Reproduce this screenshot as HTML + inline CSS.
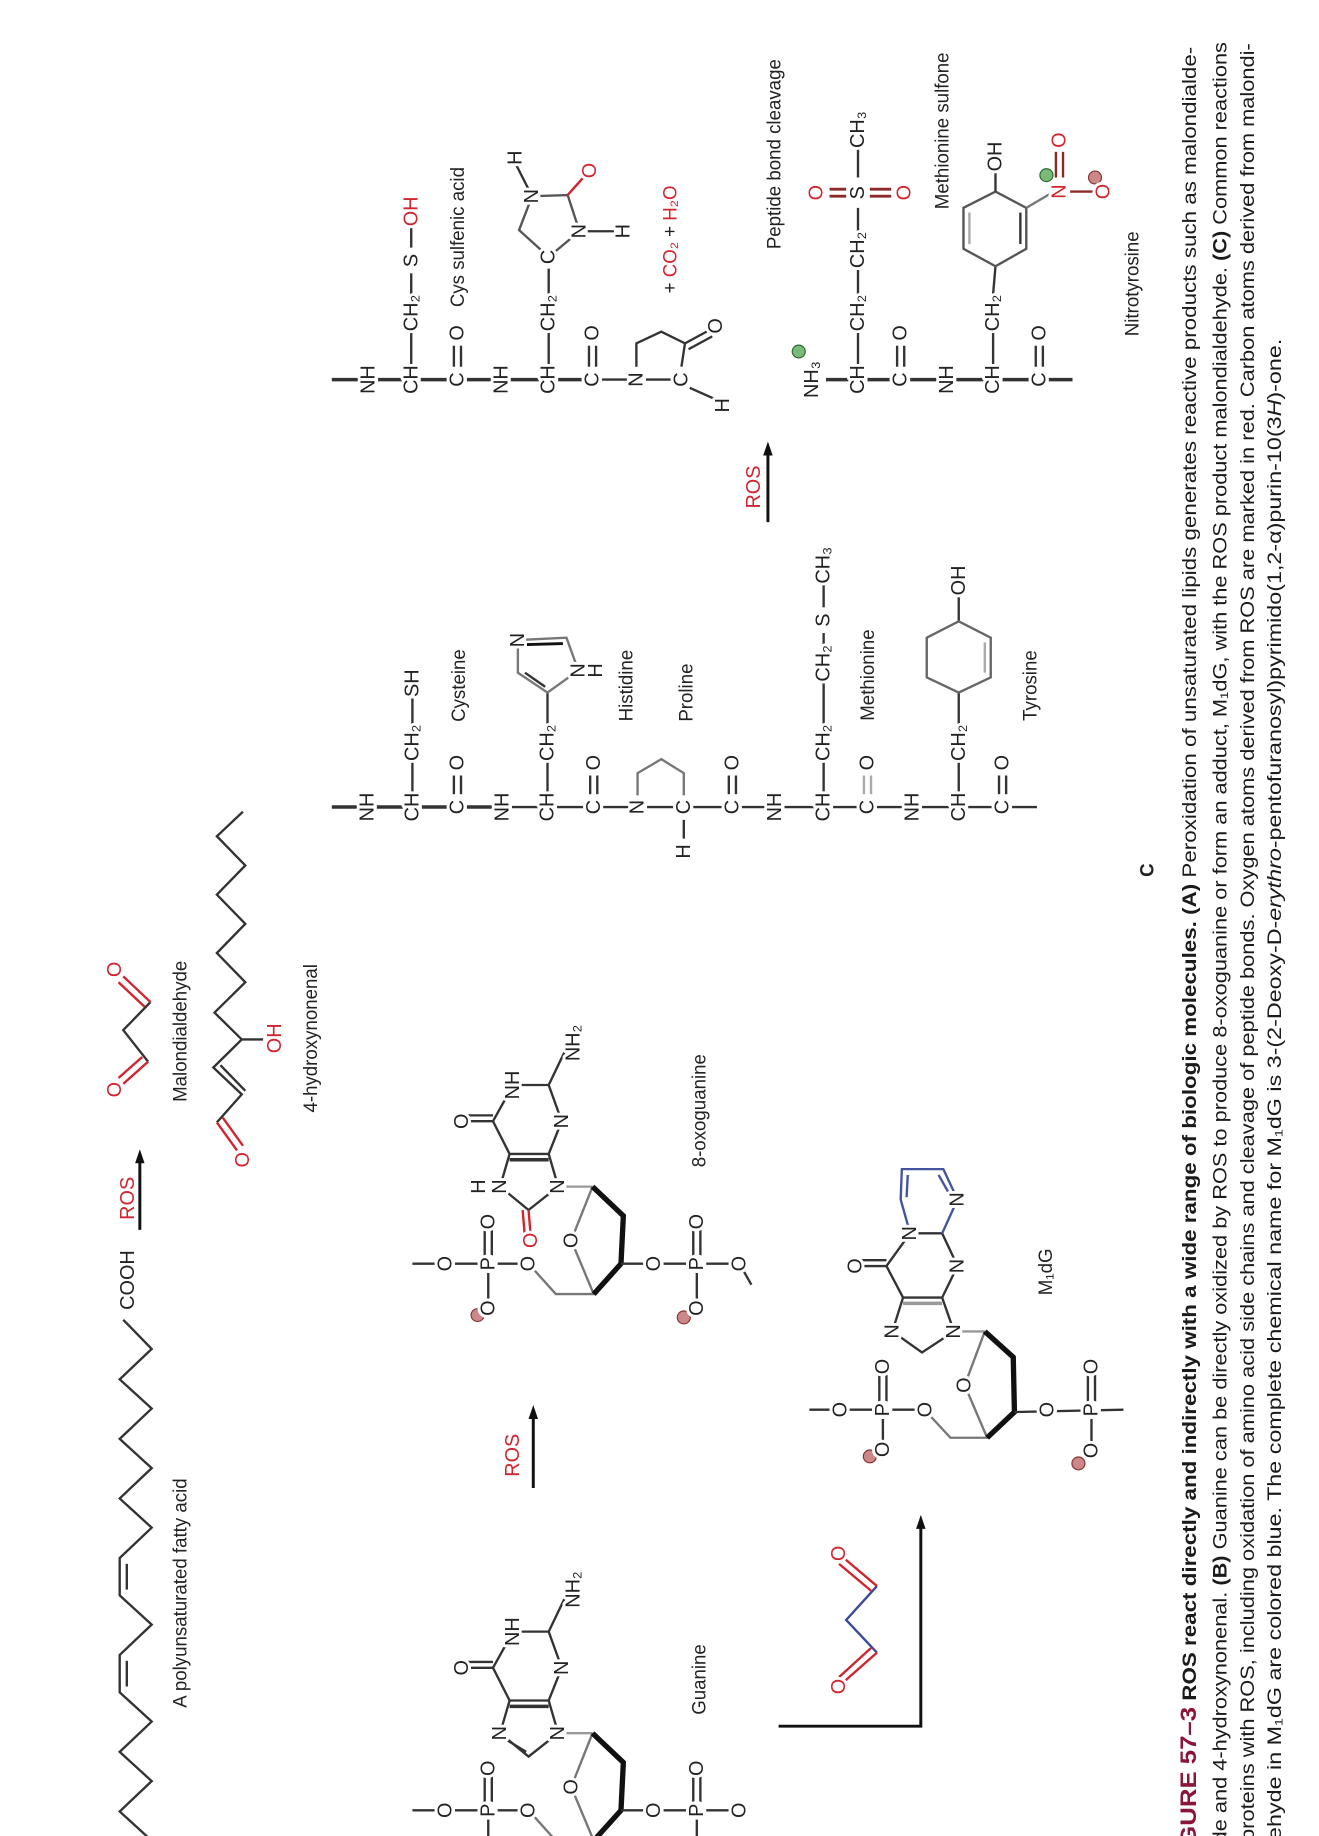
<!DOCTYPE html>
<html><head><meta charset="utf-8"><style>
html,body{margin:0;padding:0;background:#fff}
svg{display:block}
text{font-family:"Liberation Sans",sans-serif;fill:#222}
.t{font-size:17px;text-anchor:middle;dominant-baseline:central;paint-order:stroke;stroke:#fff;stroke-width:5px;stroke-linejoin:round}
.lb{font-size:16px;text-anchor:middle;dominant-baseline:central}
.r{fill:#d0242e}
.cap{font-size:16.5px;fill:#1a1a1a}
</style></head><body>
<svg width="1319" height="1836" viewBox="0 0 1113 1572" preserveAspectRatio="none">
<g stroke="#333" stroke-width="2" fill="none">
 <polyline points="104,1130 128,1155 101,1181 128,1206 101,1232 128,1257 101,1283 128,1308 101,1334 101,1366 128,1391 101,1417 101,1449 128,1474 101,1500 128,1525 101,1551 128,1576 101,1602"/>
 <line x1="107" y1="1339" x2="107" y2="1361"/><line x1="107" y1="1422" x2="107" y2="1444"/>
 <line x1="118" y1="1053" x2="118" y2="992" stroke="#111" stroke-width="2.5"/>
 <polyline points="125,909 104,882 127,858"/>
 <g stroke="#d0242e"><line x1="125" y1="909" x2="104" y2="928"/><line x1="120" y1="905" x2="100" y2="923"/><line x1="127" y1="858" x2="104" y2="836"/><line x1="122" y1="862" x2="100" y2="841"/></g>
 <polyline points="183,961 204,937 180,914 204,890 181,867 207,841 183,816 207,791 183,766 207,741 183,716 205,695"/>
 <line x1="186" y1="912" x2="207" y2="934"/>
 <g stroke="#d0242e"><line x1="183" y1="961" x2="200" y2="985"/><line x1="188" y1="957" x2="205" y2="981"/></g>
 <line x1="204" y1="890" x2="222" y2="890"/>
 <g>
  <polygon points="416,960 433,929 463,929 474,960 463,988 430,988"/>
  <line x1="430" y1="993" x2="463" y2="993" stroke-width="3"/>
  <line x1="416" y1="960" x2="392" y2="960"/><line x1="416" y1="955" x2="392" y2="955"/>
  <line x1="463" y1="929" x2="480" y2="893"/>
  <polyline points="430,988 422,1016 446,1036 471,1016 463,988"/>
  <line x1="446" y1="1036" x2="448" y2="1060" stroke="#d0242e"/><line x1="441" y1="1036" x2="443" y2="1060" stroke="#d0242e"/>
  <polyline points="471,1016 500,1016" stroke="#999"/>
  <polyline points="500,1016 482,1062 501,1108 469,1108 446,1082" stroke="#777"/>
  <polyline points="500,1016 526,1041 524,1082 501,1108" stroke="#111" stroke-width="4.5"/>
  <line x1="524" y1="1082" x2="624" y2="1082"/><line x1="624" y1="1082" x2="634" y2="1100"/>
  <line x1="348" y1="1082" x2="446" y2="1082"/>
  <line x1="409" y1="1082" x2="409" y2="1050"/><line x1="415" y1="1082" x2="415" y2="1050"/><line x1="412" y1="1082" x2="412" y2="1118"/>
  <line x1="585" y1="1082" x2="585" y2="1050"/><line x1="591" y1="1082" x2="591" y2="1050"/><line x1="588" y1="1082" x2="588" y2="1118"/>
 </g>
 <g transform="translate(0,468)">
  <polygon points="416,960 433,929 463,929 474,960 463,988 430,988"/>
  <line x1="430" y1="993" x2="463" y2="993" stroke-width="3"/>
  <line x1="416" y1="960" x2="392" y2="960"/><line x1="416" y1="955" x2="392" y2="955"/>
  <line x1="463" y1="929" x2="480" y2="893"/>
  <polyline points="430,988 422,1016 446,1036 471,1016 463,988"/>
  <line x1="428" y1="1022" x2="444" y2="1032"/>
  <polyline points="471,1016 500,1016" stroke="#999"/>
  <polyline points="500,1016 482,1062 501,1108 469,1108 446,1082" stroke="#777"/>
  <polyline points="500,1016 526,1041 524,1082 501,1108" stroke="#111" stroke-width="4.5"/>
  <line x1="524" y1="1082" x2="624" y2="1082"/>
  <line x1="348" y1="1082" x2="446" y2="1082"/>
  <line x1="409" y1="1082" x2="409" y2="1050"/><line x1="415" y1="1082" x2="415" y2="1050"/><line x1="412" y1="1082" x2="412" y2="1118"/>
  <line x1="585" y1="1082" x2="585" y2="1050"/><line x1="591" y1="1082" x2="591" y2="1050"/><line x1="588" y1="1082" x2="588" y2="1118"/>
 </g>
 <line x1="450" y1="1274" x2="450" y2="1210" stroke="#111" stroke-width="2.5"/>
 <g>
  <polygon points="748,1084 768,1056 795,1056 808,1084 795,1111 762,1111"/>
  <line x1="762" y1="1116" x2="795" y2="1116" stroke-width="3" stroke="#999"/>
  <line x1="748" y1="1084" x2="724" y2="1084"/><line x1="748" y1="1079" x2="724" y2="1079"/>
  <polyline points="768,1056 760,1027 761,1001 796,1001 808,1027 795,1056" stroke="#4455a0"/>
  <line x1="765" y1="1025" x2="766" y2="1006" stroke="#4455a0"/><line x1="792" y1="1006" x2="802" y2="1024" stroke="#4455a0"/>
  <polyline points="762,1111 753,1140 778,1158 805,1140 795,1111"/>
  <line x1="805" y1="1140" x2="831" y2="1140" stroke="#999"/>
  <polyline points="831,1140 814,1186 833,1231 802,1231 781,1208" stroke="#777"/>
  <polyline points="831,1140 855,1162 856,1209 833,1231" stroke="#111" stroke-width="4.5"/>
  <line x1="856" y1="1209" x2="948" y2="1207"/>
  <line x1="683" y1="1207" x2="781" y2="1207"/>
  <line x1="742" y1="1207" x2="742" y2="1174"/><line x1="748" y1="1207" x2="748" y2="1174"/><line x1="745" y1="1207" x2="745" y2="1239"/>
  <line x1="918" y1="1207" x2="918" y2="1174"/><line x1="924" y1="1207" x2="924" y2="1174"/><line x1="921" y1="1207" x2="921" y2="1240"/>
 </g>
 <polyline points="740,1358 714,1387 740,1415" stroke="#3a4a9a"/>
 <g stroke="#d0242e"><line x1="740" y1="1358" x2="712" y2="1334"/><line x1="735" y1="1362" x2="708" y2="1339"/><line x1="740" y1="1415" x2="712" y2="1440"/><line x1="735" y1="1411" x2="708" y2="1436"/></g>
 <polyline points="657,1478 777,1478 777,1305" stroke="#111" stroke-width="2.5"/>
 <g>
  <line x1="280" y1="691" x2="302" y2="691" stroke-width="3"/>
  <line x1="318" y1="691" x2="340" y2="691" stroke-width="3"/><line x1="356" y1="691" x2="378" y2="691" stroke-width="3"/><line x1="394" y1="691" x2="416" y2="691" stroke-width="3"/>
  <line x1="432" y1="691" x2="454" y2="691"/><line x1="470" y1="691" x2="493" y2="691"/><line x1="509" y1="691" x2="530" y2="691"/><line x1="546" y1="691" x2="569" y2="691"/><line x1="585" y1="691" x2="610" y2="691"/><line x1="626" y1="691" x2="646" y2="691"/><line x1="662" y1="691" x2="687" y2="691"/><line x1="703" y1="691" x2="724" y2="691"/><line x1="740" y1="691" x2="762" y2="691"/><line x1="778" y1="691" x2="801" y2="691"/><line x1="817" y1="691" x2="838" y2="691"/><line x1="854" y1="691" x2="875" y2="691"/>
  <line x1="348" y1="679" x2="348" y2="652"/><line x1="348" y1="620" x2="348" y2="598"/>
  <line x1="462" y1="679" x2="462" y2="652"/><line x1="462" y1="620" x2="462" y2="593"/>
  <line x1="695" y1="679" x2="695" y2="652"/><line x1="695" y1="620" x2="695" y2="585"/><line x1="695" y1="552" x2="695" y2="542"/><line x1="695" y1="520" x2="695" y2="500"/>
  <line x1="809" y1="679" x2="809" y2="652"/><line x1="809" y1="620" x2="809" y2="593"/><line x1="809" y1="532" x2="809" y2="510"/>
  <g><line x1="383" y1="680" x2="383" y2="664"/><line x1="389" y1="680" x2="389" y2="664"/><line x1="498" y1="680" x2="498" y2="664"/><line x1="504" y1="680" x2="504" y2="664"/><line x1="615" y1="680" x2="615" y2="664"/><line x1="621" y1="680" x2="621" y2="664"/><line x1="729" y1="680" x2="729" y2="664" stroke="#aaa"/><line x1="735" y1="680" x2="735" y2="664" stroke="#aaa"/><line x1="843" y1="680" x2="843" y2="664"/><line x1="849" y1="680" x2="849" y2="664"/></g>
  <polyline points="538,681 538,662 558,650 577,662 577,681" stroke="#777"/>
  <line x1="577" y1="702" x2="577" y2="718"/>
  <polygon points="462,593 437,576 437,548 478,546 488,574" stroke="#777"/>
  <line x1="441" y1="552" x2="475" y2="551" stroke="#111" stroke-width="2.5"/><line x1="443" y1="576" x2="460" y2="588"/>
  <polygon points="809,593 782,580 782,546 809,532 836,546 836,580" stroke="#666"/>
  <line x1="831" y1="550" x2="831" y2="576" stroke="#aaa"/>
 </g>
 <line x1="648" y1="447" x2="648" y2="385" stroke="#111" stroke-width="2.5"/>
 <g>
  <line x1="280" y1="325" x2="303" y2="325" stroke-width="3"/>
  <line x1="319" y1="325" x2="339" y2="325" stroke-width="3"/><line x1="355" y1="325" x2="378" y2="325" stroke-width="3"/><line x1="394" y1="325" x2="415" y2="325" stroke-width="3"/><line x1="431" y1="325" x2="455" y2="325" stroke-width="3"/><line x1="471" y1="325" x2="492" y2="325" stroke-width="3"/>
  <line x1="508" y1="325" x2="529" y2="325"/><line x1="545" y1="325" x2="567" y2="325"/>
  <line x1="582" y1="332" x2="604" y2="342"/>
  <line x1="347" y1="313" x2="347" y2="284"/><line x1="347" y1="252" x2="347" y2="234"/><line x1="347" y1="212" x2="347" y2="195"/>
  <line x1="463" y1="313" x2="463" y2="284"/><line x1="463" y1="252" x2="463" y2="230"/>
  <polygon points="463,220 438,197 449,168 479,167 489,198" stroke="#555"/>
  <line x1="449" y1="168" x2="435" y2="140"/><line x1="489" y1="198" x2="518" y2="198"/>
  <line x1="479" y1="167" x2="494" y2="150" stroke="#d0242e"/>
  <line x1="383" y1="314" x2="383" y2="296"/><line x1="389" y1="314" x2="389" y2="296"/><line x1="497" y1="314" x2="497" y2="296"/><line x1="503" y1="314" x2="503" y2="296"/>
  <polyline points="537,314 537,294 558,284 578,294 575,314"/>
  <line x1="578" y1="294" x2="598" y2="283"/><line x1="581" y1="299" x2="601" y2="288"/>
  <line x1="697" y1="325" x2="716" y2="325" stroke-width="3"/><line x1="732" y1="325" x2="752" y2="325" stroke-width="3"/><line x1="768" y1="325" x2="791" y2="325" stroke-width="3"/><line x1="807" y1="325" x2="830" y2="325" stroke-width="3"/><line x1="846" y1="325" x2="869" y2="325" stroke-width="3"/><line x1="885" y1="325" x2="905" y2="325" stroke-width="3"/>
  <line x1="724" y1="313" x2="724" y2="284"/><line x1="724" y1="252" x2="724" y2="230"/><line x1="724" y1="198" x2="724" y2="178"/><line x1="724" y1="152" x2="724" y2="127"/>
  <g stroke="#8a2a2a" stroke-width="2.5"><line x1="700" y1="162" x2="714" y2="162"/><line x1="700" y1="168" x2="714" y2="168"/><line x1="734" y1="162" x2="752" y2="162"/><line x1="734" y1="168" x2="752" y2="168"/></g>
  <line x1="757" y1="314" x2="757" y2="296"/><line x1="763" y1="314" x2="763" y2="296"/><line x1="874" y1="314" x2="874" y2="296"/><line x1="880" y1="314" x2="880" y2="296"/>
  <line x1="838" y1="313" x2="838" y2="284"/><line x1="838" y1="252" x2="840" y2="228"/>
  <polygon points="840,228 813,213 813,178 840,164 866,178 866,213" stroke="#555"/>
  <line x1="818" y1="182" x2="818" y2="209" stroke="#aaa"/><line x1="861" y1="182" x2="861" y2="209"/>
  <line x1="840" y1="164" x2="840" y2="146"/><line x1="866" y1="178" x2="886" y2="166" stroke="#777"/>
  <g stroke="#8a2a2a"><line x1="891" y1="152" x2="891" y2="130"/><line x1="897" y1="152" x2="897" y2="130"/><line x1="903" y1="164" x2="922" y2="164"/></g>
 </g>
</g>
<g fill="#111">
 <polygon points="118,984 114,996 122,996"/><polygon points="450,1203 446,1215 454,1215"/>
 <polygon points="777,1297 773,1309 781,1309"/><polygon points="648,378 644,390 652,390"/>
</g>
<g fill="#fff">
 <circle cx="376" cy="1082" r="8"/><circle cx="412" cy="1082" r="8"/><circle cx="446" cy="1082" r="8"/><circle cx="482" cy="1062" r="8"/><circle cx="552" cy="1082" r="8"/><circle cx="588" cy="1082" r="8"/><circle cx="624" cy="1082" r="8"/>
 <circle cx="376" cy="1550" r="8"/><circle cx="412" cy="1550" r="8"/><circle cx="446" cy="1550" r="8"/><circle cx="482" cy="1530" r="8"/><circle cx="552" cy="1550" r="8"/><circle cx="588" cy="1550" r="8"/><circle cx="624" cy="1550" r="8"/>
 <circle cx="709" cy="1207" r="8"/><circle cx="745" cy="1207" r="8"/><circle cx="781" cy="1207" r="8"/><circle cx="814" cy="1186" r="8"/><circle cx="884" cy="1207" r="8"/><circle cx="921" cy="1207" r="8"/>
 <circle cx="463" cy="220" r="8"/><circle cx="422" cy="1016" r="7"/><circle cx="471" cy="1016" r="7"/><circle cx="422" cy="1484" r="7"/><circle cx="471" cy="1484" r="7"/><circle cx="753" cy="1140" r="7"/><circle cx="805" cy="1140" r="7"/><circle cx="768" cy="1056" r="7"/><circle cx="808" cy="1084" r="7"/><circle cx="808" cy="1027" r="7"/><circle cx="433" cy="929" r="7"/><circle cx="474" cy="960" r="7"/><circle cx="433" cy="1397" r="7"/><circle cx="474" cy="1428" r="7"/><circle cx="449" cy="168" r="7"/><circle cx="489" cy="198" r="7"/><circle cx="437" cy="548" r="7"/><circle cx="488" cy="574" r="7"/>
</g>
<g>
 <circle cx="403" cy="1126" r="5.5" fill="#c88" stroke="#833"/><circle cx="577" cy="1128" r="5.5" fill="#c88" stroke="#833"/>
 <circle cx="403" cy="1594" r="5.5" fill="#c88" stroke="#833"/><circle cx="577" cy="1596" r="5.5" fill="#c88" stroke="#833"/>
 <circle cx="734" cy="1247" r="5.5" fill="#c88" stroke="#833"/><circle cx="910" cy="1253" r="5.5" fill="#c88" stroke="#833"/>
 <circle cx="674" cy="301" r="5.5" fill="#7b7" stroke="#363"/><circle cx="883" cy="150" r="5.5" fill="#7b7" stroke="#363"/><circle cx="924" cy="152" r="5.5" fill="#c88" stroke="#833"/>
</g>
<g>
 <text class="t" transform="translate(108,1096) rotate(-90)">COOH</text>
 <text class="t r" transform="translate(108,1026) rotate(-90)">ROS</text>
 <text class="t r" transform="translate(97,933) rotate(-90)">O</text>
 <text class="t r" transform="translate(97,830) rotate(-90)">O</text>
 <text class="t r" transform="translate(205,993) rotate(-90)">O</text>
 <text class="t r" transform="translate(232,889) rotate(-90)">OH</text>
 <text class="t" transform="translate(390,960) rotate(-90)">O</text>
 <text class="t" transform="translate(433,929) rotate(-90)">NH</text>
 <text class="t" transform="translate(474,960) rotate(-90)">N</text>
 <text class="t" transform="translate(484,893) rotate(-90)">NH₂</text>
 <text class="t" transform="translate(422,1016) rotate(-90)">N</text>
 <text class="t" transform="translate(404,1016) rotate(-90)">H</text>
 <text class="t r" transform="translate(448,1062) rotate(-90)">O</text>
 <text class="t" transform="translate(471,1016) rotate(-90)">N</text>
 <text class="t" transform="translate(482,1062) rotate(-90)">O</text>
 <text class="t" transform="translate(376,1082) rotate(-90)">O</text>
 <text class="t" transform="translate(412,1082) rotate(-90)">P</text>
 <text class="t" transform="translate(446,1082) rotate(-90)">O</text>
 <text class="t" transform="translate(412,1046) rotate(-90)">O</text>
 <text class="t" transform="translate(412,1120) rotate(-90)">O</text>
 <text class="t" transform="translate(552,1082) rotate(-90)">O</text>
 <text class="t" transform="translate(588,1082) rotate(-90)">P</text>
 <text class="t" transform="translate(624,1082) rotate(-90)">O</text>
 <text class="t" transform="translate(588,1046) rotate(-90)">O</text>
 <text class="t" transform="translate(588,1120) rotate(-90)">O</text>
 <text class="t r" transform="translate(433,1246) rotate(-90)">ROS</text>
 <text class="t" transform="translate(390,1428) rotate(-90)">O</text>
 <text class="t" transform="translate(433,1397) rotate(-90)">NH</text>
 <text class="t" transform="translate(474,1428) rotate(-90)">N</text>
 <text class="t" transform="translate(484,1361) rotate(-90)">NH₂</text>
 <text class="t" transform="translate(422,1484) rotate(-90)">N</text>
 <text class="t" transform="translate(471,1484) rotate(-90)">N</text>
 <text class="t" transform="translate(482,1530) rotate(-90)">O</text>
 <text class="t" transform="translate(376,1550) rotate(-90)">O</text>
 <text class="t" transform="translate(412,1550) rotate(-90)">P</text>
 <text class="t" transform="translate(446,1550) rotate(-90)">O</text>
 <text class="t" transform="translate(412,1514) rotate(-90)">O</text>
 <text class="t" transform="translate(552,1550) rotate(-90)">O</text>
 <text class="t" transform="translate(588,1550) rotate(-90)">P</text>
 <text class="t" transform="translate(624,1550) rotate(-90)">O</text>
 <text class="t" transform="translate(588,1514) rotate(-90)">O</text>
 <text class="t" transform="translate(722,1084) rotate(-90)">O</text>
 <text class="t" transform="translate(768,1056) rotate(-90)">N</text>
 <text class="t" transform="translate(808,1084) rotate(-90)">N</text>
 <text class="t" transform="translate(808,1027) rotate(-90)">N</text>
 <text class="t" transform="translate(753,1140) rotate(-90)">N</text>
 <text class="t" transform="translate(805,1140) rotate(-90)">N</text>
 <text class="t" transform="translate(814,1186) rotate(-90)">O</text>
 <text class="t" transform="translate(709,1207) rotate(-90)">O</text>
 <text class="t" transform="translate(745,1207) rotate(-90)">P</text>
 <text class="t" transform="translate(781,1207) rotate(-90)">O</text>
 <text class="t" transform="translate(745,1170) rotate(-90)">O</text>
 <text class="t" transform="translate(745,1241) rotate(-90)">O</text>
 <text class="t" transform="translate(884,1207) rotate(-90)">O</text>
 <text class="t" transform="translate(921,1207) rotate(-90)">P</text>
 <text class="t" transform="translate(921,1170) rotate(-90)">O</text>
 <text class="t" transform="translate(921,1242) rotate(-90)">O</text>
 <text class="t r" transform="translate(708,1330) rotate(-90)">O</text>
 <text class="t r" transform="translate(708,1444) rotate(-90)">O</text>
 <text class="t" transform="translate(310,691) rotate(-90)">NH</text>
 <text class="t" transform="translate(348,691) rotate(-90)">CH</text>
 <text class="t" transform="translate(348,636) rotate(-90)">CH₂</text>
 <text class="t" transform="translate(348,585) rotate(-90)">SH</text>
 <text class="t" transform="translate(386,691) rotate(-90)">C</text>
 <text class="t" transform="translate(386,653) rotate(-90)">O</text>
 <text class="t" transform="translate(424,691) rotate(-90)">NH</text>
 <text class="t" transform="translate(462,691) rotate(-90)">CH</text>
 <text class="t" transform="translate(462,636) rotate(-90)">CH₂</text>
 <text class="t" transform="translate(437,548) rotate(-90)">N</text>
 <text class="t" transform="translate(488,574) rotate(-90)">N</text>
 <text class="t" transform="translate(503,574) rotate(-90)">H</text>
 <text class="t" transform="translate(501,691) rotate(-90)">C</text>
 <text class="t" transform="translate(501,653) rotate(-90)">O</text>
 <text class="t" transform="translate(538,691) rotate(-90)">N</text>
 <text class="t" transform="translate(577,691) rotate(-90)">C</text>
 <text class="t" transform="translate(577,729) rotate(-90)">H</text>
 <text class="t" transform="translate(618,691) rotate(-90)">C</text>
 <text class="t" transform="translate(618,653) rotate(-90)">O</text>
 <text class="t" transform="translate(654,691) rotate(-90)">NH</text>
 <text class="t" transform="translate(695,691) rotate(-90)">CH</text>
 <text class="t" transform="translate(695,636) rotate(-90)">CH₂</text>
 <text class="t" transform="translate(695,568) rotate(-90)">CH₂</text>
 <text class="t" transform="translate(695,531) rotate(-90)">S</text>
 <text class="t" transform="translate(695,484) rotate(-90)">CH₃</text>
 <text class="t" transform="translate(732,691) rotate(-90)">C</text>
 <text class="t" transform="translate(732,653) rotate(-90)">O</text>
 <text class="t" transform="translate(770,691) rotate(-90)">NH</text>
 <text class="t" transform="translate(809,691) rotate(-90)">CH</text>
 <text class="t" transform="translate(809,636) rotate(-90)">CH₂</text>
 <text class="t" transform="translate(809,497) rotate(-90)">OH</text>
 <text class="t" transform="translate(846,691) rotate(-90)">C</text>
 <text class="t" transform="translate(846,653) rotate(-90)">O</text>
 <text class="t r" transform="translate(636,417) rotate(-90)">ROS</text>
 <text class="t" transform="translate(311,325) rotate(-90)">NH</text>
 <text class="t" transform="translate(347,325) rotate(-90)">CH</text>
 <text class="t" transform="translate(347,268) rotate(-90)">CH₂</text>
 <text class="t" transform="translate(347,223) rotate(-90)">S</text>
 <text class="t r" transform="translate(347,181) rotate(-90)">OH</text>
 <text class="t" transform="translate(386,325) rotate(-90)">C</text>
 <text class="t" transform="translate(386,285) rotate(-90)">O</text>
 <text class="t" transform="translate(423,325) rotate(-90)">NH</text>
 <text class="t" transform="translate(463,325) rotate(-90)">CH</text>
 <text class="t" transform="translate(463,268) rotate(-90)">CH₂</text>
 <text class="t" transform="translate(463,220) rotate(-90)">C</text>
 <text class="t" transform="translate(449,168) rotate(-90)">N</text>
 <text class="t" transform="translate(435,135) rotate(-90)">H</text>
 <text class="t" transform="translate(489,198) rotate(-90)">N</text>
 <text class="t" transform="translate(526,198) rotate(-90)">H</text>
 <text class="t r" transform="translate(498,146) rotate(-90)">O</text>
 <text class="t" transform="translate(500,325) rotate(-90)">C</text>
 <text class="t" transform="translate(500,285) rotate(-90)">O</text>
 <text class="t" transform="translate(537,325) rotate(-90)">N</text>
 <text class="t" transform="translate(575,325) rotate(-90)">C</text>
 <text class="t" transform="translate(610,347) rotate(-90)">H</text>
 <text class="t" transform="translate(604,279) rotate(-90)">O</text>
 <text class="lb" transform="translate(565,205) rotate(-90)">+ <tspan class="r">CO₂</tspan> + <tspan class="r">H₂O</tspan></text>
 <text class="t" transform="translate(685,325) rotate(-90)">NH₃</text>
 <text class="t" transform="translate(724,325) rotate(-90)">CH</text>
 <text class="t" transform="translate(724,268) rotate(-90)">CH₂</text>
 <text class="t" transform="translate(724,214) rotate(-90)">CH₂</text>
 <text class="t" transform="translate(724,165) rotate(-90)">S</text>
 <text class="t" transform="translate(724,111) rotate(-90)">CH₃</text>
 <text class="t r" transform="translate(689,165) rotate(-90)">O</text>
 <text class="t r" transform="translate(763,165) rotate(-90)">O</text>
 <text class="t" transform="translate(760,325) rotate(-90)">C</text>
 <text class="t" transform="translate(760,285) rotate(-90)">O</text>
 <text class="t" transform="translate(799,325) rotate(-90)">NH</text>
 <text class="t" transform="translate(838,325) rotate(-90)">CH</text>
 <text class="t" transform="translate(838,268) rotate(-90)">CH₂</text>
 <text class="t" transform="translate(840,134) rotate(-90)">OH</text>
 <text class="t r" transform="translate(894,164) rotate(-90)">N</text>
 <text class="t r" transform="translate(894,120) rotate(-90)">O</text>
 <text class="t r" transform="translate(931,164) rotate(-90)">O</text>
 <text class="t" transform="translate(877,325) rotate(-90)">C</text>
 <text class="t" transform="translate(877,285) rotate(-90)">O</text>
</g>
<g>
 <text class="lb" transform="translate(152,1364) rotate(-90)">A polyunsaturated fatty acid</text>
 <text class="lb" transform="translate(152,883) rotate(-90)">Malondialdehyde</text>
 <text class="lb" transform="translate(262,889) rotate(-90)">4-hydroxynonenal</text>
 <text class="lb" transform="translate(590,1438) rotate(-90)">Guanine</text>
 <text class="lb" transform="translate(590,951) rotate(-90)">8-oxoguanine</text>
 <text class="lb" transform="translate(882,1089) rotate(-90)">M₁dG</text>
 <text class="lb" transform="translate(968,745) rotate(-90)" style="font-weight:bold">C</text>
 <text class="lb" transform="translate(387,587) rotate(-90)">Cysteine</text>
 <text class="lb" transform="translate(528,587) rotate(-90)">Histidine</text>
 <text class="lb" transform="translate(579,593) rotate(-90)">Proline</text>
 <text class="lb" transform="translate(732,578) rotate(-90)">Methionine</text>
 <text class="lb" transform="translate(869,587) rotate(-90)">Tyrosine</text>
 <text class="lb" transform="translate(386,203) rotate(-90)">Cys sulfenic acid</text>
 <text class="lb" transform="translate(653,132) rotate(-90)">Peptide bond cleavage</text>
 <text class="lb" transform="translate(795,112) rotate(-90)">Methionine sulfone</text>
 <text class="lb" transform="translate(955,243) rotate(-90)">Nitrotyrosine</text>
</g>
<g>
 <text class="cap" transform="translate(1009,1600) rotate(-90)" textLength="1560" lengthAdjust="spacingAndGlyphs"><tspan style="font-weight:bold;fill:#8a1538;font-size:19px">FIGURE 57–3</tspan><tspan style="font-weight:bold">  ROS react directly and indirectly with a wide range of biologic molecules. (A)</tspan> Peroxidation of unsaturated lipids generates reactive products such as malondialde-</text>
 <text class="cap" transform="translate(1035,1598) rotate(-90)" textLength="1562" lengthAdjust="spacingAndGlyphs">hyde and 4-hydroxynonenal. <tspan style="font-weight:bold">(B)</tspan> Guanine can be directly oxidized by ROS to produce 8-oxoguanine or form an adduct, M₁dG, with the ROS product malondialdehyde. <tspan style="font-weight:bold">(C)</tspan> Common reactions</text>
 <text class="cap" transform="translate(1058,1597) rotate(-90)" textLength="1560" lengthAdjust="spacingAndGlyphs">of proteins with ROS, including oxidation of amino acid side chains and cleavage of peptide bonds. Oxygen atoms derived from ROS are marked in red. Carbon atoms derived from malondi-</text>
 <text class="cap" transform="translate(1081,1602) rotate(-90)" textLength="1312" lengthAdjust="spacingAndGlyphs">aldehyde in M₁dG are colored blue. The complete chemical name for M₁dG is 3-(2-Deoxy-D-<tspan font-style="italic">erythro</tspan>-pentofuranosyl)pyrimido(1,2-α)purin-10(3<tspan font-style="italic">H</tspan>)-one.</text>
</g>
</svg>
</body></html>
